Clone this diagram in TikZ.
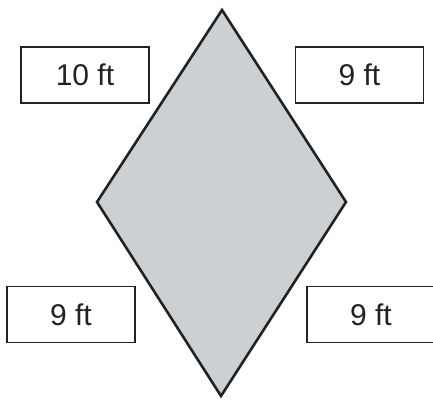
\documentclass[tikz,border=0pt]{standalone}
\usepackage{fontspec}
\setmainfont{Liberation Sans}
\definecolor{shade}{HTML}{CDD0D3}
\definecolor{ink}{HTML}{222222}
\begin{document}
\begin{tikzpicture}[x=1pt,y=-1pt,
  lbl/.style={draw=ink,line width=1.2pt,fill=white,minimum width=128pt,minimum height=56pt,inner sep=0pt,font=\fontsize{30}{30}\selectfont,text=ink}]
\useasboundingbox (0,0) rectangle (433,401);
\begin{scope}
\clip (0,0) rectangle (433,401);
\coordinate (T) at (222,10);
\coordinate (L) at (97,202);
\coordinate (B) at (221,396);
\coordinate (R) at (346,202);
\filldraw[fill=shade,draw=ink,line width=2.6pt,line join=miter] (T) -- (R) -- (B) -- (L) -- cycle;
\node[lbl] (tl) at (85,75) {10 ft};
\node[lbl] (tr) at (359.5,75) {9 ft};
\node[lbl] (bl) at (71,314.5) {9 ft};
\node[lbl] (br) at (371,314.5) {9 ft};
\end{scope}
\end{tikzpicture}
\end{document}
